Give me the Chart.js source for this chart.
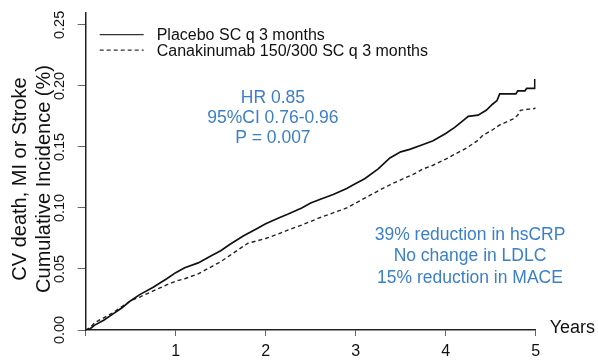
<!DOCTYPE html>
<html><head><meta charset="utf-8">
<script src="https://cdn.jsdelivr.net/npm/chart.js@4/dist/chart.umd.min.js"></script>
<style>html,body{margin:0;padding:0;background:#fff;}canvas{display:block}</style>
</head><body>
<canvas id="c" width="598" height="364"></canvas>
<script>
// ---- data ----
const seriesLabels = ['Placebo SC q 3 months', 'Canakinumab 150/300 SC q 3 months'];
const placeboYears = [0,0.05,0.1,0.2,0.3,0.4,0.5,0.6,0.75,0.9,1.0,1.1,1.25,1.4,1.5,1.6,1.75,1.9,2.0,2.15,2.25,2.4,2.5,2.6,2.75,2.9,3.0,3.1,3.25,3.38,3.5,3.6,3.75,3.86,4.0,4.1,4.2,4.25,4.36,4.45,4.52,4.57,4.6,4.78,4.8,4.88,4.9,4.985,4.99,5.0];
const placeboRisk  = [0,0.001,0.004,0.008,0.013,0.018,0.024,0.029,0.035,0.042,0.047,0.051,0.055,0.061,0.065,0.070,0.077,0.083,0.087,0.092,0.095,0.100,0.104,0.107,0.111,0.116,0.120,0.124,0.132,0.141,0.146,0.148,0.152,0.155,0.161,0.166,0.172,0.175,0.176,0.180,0.185,0.188,0.1935,0.1935,0.196,0.196,0.198,0.198,0.205,0.205];
const canaYears = [0,0.05,0.1,0.2,0.3,0.4,0.5,0.6,0.75,0.9,1.0,1.1,1.25,1.4,1.5,1.6,1.8,1.9,2.0,2.15,2.25,2.4,2.5,2.6,2.75,2.9,3.0,3.1,3.25,3.38,3.5,3.65,3.75,3.86,4.0,4.1,4.23,4.35,4.42,4.5,4.6,4.75,4.8,4.83,4.92,4.97,5.0];
const canaRisk  = [0,0.002,0.006,0.010,0.014,0.019,0.024,0.027,0.032,0.037,0.040,0.042,0.046,0.052,0.056,0.061,0.071,0.073,0.075,0.079,0.082,0.086,0.089,0.092,0.096,0.100,0.104,0.108,0.114,0.119,0.123,0.128,0.132,0.135,0.140,0.144,0.149,0.155,0.160,0.163,0.168,0.173,0.176,0.180,0.181,0.181,0.182];
const xTickValues = [0,1,2,3,4,5];
const yTickValues = [0,0.05,0.10,0.15,0.20,0.25];
const yTitleLines = ['CV death, MI or Stroke', 'Cumulative Incidence (%)'];
const xTitleText = 'Years';
const statsLines = ['HR 0.85', '95%CI 0.76-0.96', 'P = 0.007'];
const effectLines = ['39% reduction in hsCRP', 'No change in LDLC', '15% reduction in MACE'];

// ---- styling ----
const FONT = '"Liberation Sans", Arial, Helvetica, sans-serif';
const BLUE = '#3b7fc8';
const INK = '#111';

const toPoints = (xs, ys) => xs.map((x, i) => ({x, y: ys[i]}));

const overlay = {
  id: 'overlay',
  afterDraw(chart) {
    const {ctx, chartArea: a, scales: {x, y}} = chart;
    ctx.save();
    // legend
    chart.data.datasets.forEach((ds, i) => {
      const ly = a.top + 22 + i * 15.5;
      ctx.beginPath();
      ctx.setLineDash(ds.borderDash || []);
      ctx.lineWidth = 1.3;
      ctx.strokeStyle = '#333';
      ctx.moveTo(a.left + 14, ly);
      ctx.lineTo(a.left + 58, ly);
      ctx.stroke();
      ctx.setLineDash([]);
      ctx.fillStyle = INK;
      ctx.font = '16px ' + FONT;
      ctx.textAlign = 'left';
      ctx.textBaseline = 'middle';
      ctx.fillText(ds.label, a.left + 71, ly + 1);
    });
    // y title (rotated)
    ctx.font = '20px ' + FONT;
    ctx.fillStyle = INK;
    ctx.textAlign = 'center';
    ctx.textBaseline = 'middle';
    yTitleLines.forEach((t, i) => {
      ctx.save();
      ctx.translate(20 + i * 24, 179);
      ctx.rotate(-Math.PI / 2);
      ctx.fillText(t, 0, 0);
      ctx.restore();
    });
    // x title
    ctx.font = '18px ' + FONT;
    ctx.textAlign = 'left';
    ctx.fillText(xTitleText, a.right + 14, a.bottom - 2);
    // annotations
    ctx.fillStyle = BLUE;
    ctx.font = '17.5px ' + FONT;
    ctx.textAlign = 'center';
    statsLines.forEach((t, i) => {
      ctx.fillText(t, x.getPixelForValue(2.08), y.getPixelForValue(0.19) + i * 20);
    });
    effectLines.forEach((t, i) => {
      ctx.fillText(t, x.getPixelForValue(4.27), y.getPixelForValue(0.078) + i * 21.7);
    });
    ctx.restore();
  }
};

new Chart(document.getElementById('c'), {
  type: 'line',
  data: {
    datasets: [
      {label: seriesLabels[0], data: toPoints(placeboYears, placeboRisk), borderColor: '#111', borderWidth: 1.7, pointRadius: 0, tension: 0, fill: false},
      {label: seriesLabels[1], data: toPoints(canaYears, canaRisk), borderColor: '#222', borderWidth: 1.4, borderDash: [4, 3], pointRadius: 0, tension: 0, fill: false}
    ]
  },
  options: {
    responsive: false,
    animation: false,
    devicePixelRatio: 1,
    layout: {padding: {left: 0, right: 62.3, top: 3, bottom: 0}},
    plugins: {legend: {display: false}, tooltip: {enabled: false}},
    scales: {
      x: {
        type: 'linear', min: 0, max: 5,
        afterBuildTicks: s => { s.ticks = xTickValues.map(v => ({value: v})); },
        afterFit: s => { s.height = 34; },
        ticks: {callback: v => v === 0 ? '' : String(v), font: {family: FONT, size: 16}, color: INK, padding: 6, maxRotation: 0, autoSkip: false},
        grid: {drawOnChartArea: false, drawTicks: true, tickLength: 6, color: '#666', lineWidth: 1},
        border: {display: true, color: '#222', width: 1.5}
      },
      y: {
        type: 'linear', min: 0, max: 0.26,
        afterBuildTicks: s => { s.ticks = yTickValues.map(v => ({value: v})); },
        afterFit: s => { s.width = 85.7; },
        ticks: {callback: v => v.toFixed(2), font: {family: FONT, size: 14.5}, color: INK, padding: 4, minRotation: 90, maxRotation: 90, crossAlign: 'center', autoSkip: false},
        grid: {drawOnChartArea: false, drawTicks: true, tickLength: 8, color: '#666', lineWidth: 1},
        border: {display: true, color: '#222', width: 1.5}
      }
    }
  },
  plugins: [overlay]
});
</script>
</body></html>
